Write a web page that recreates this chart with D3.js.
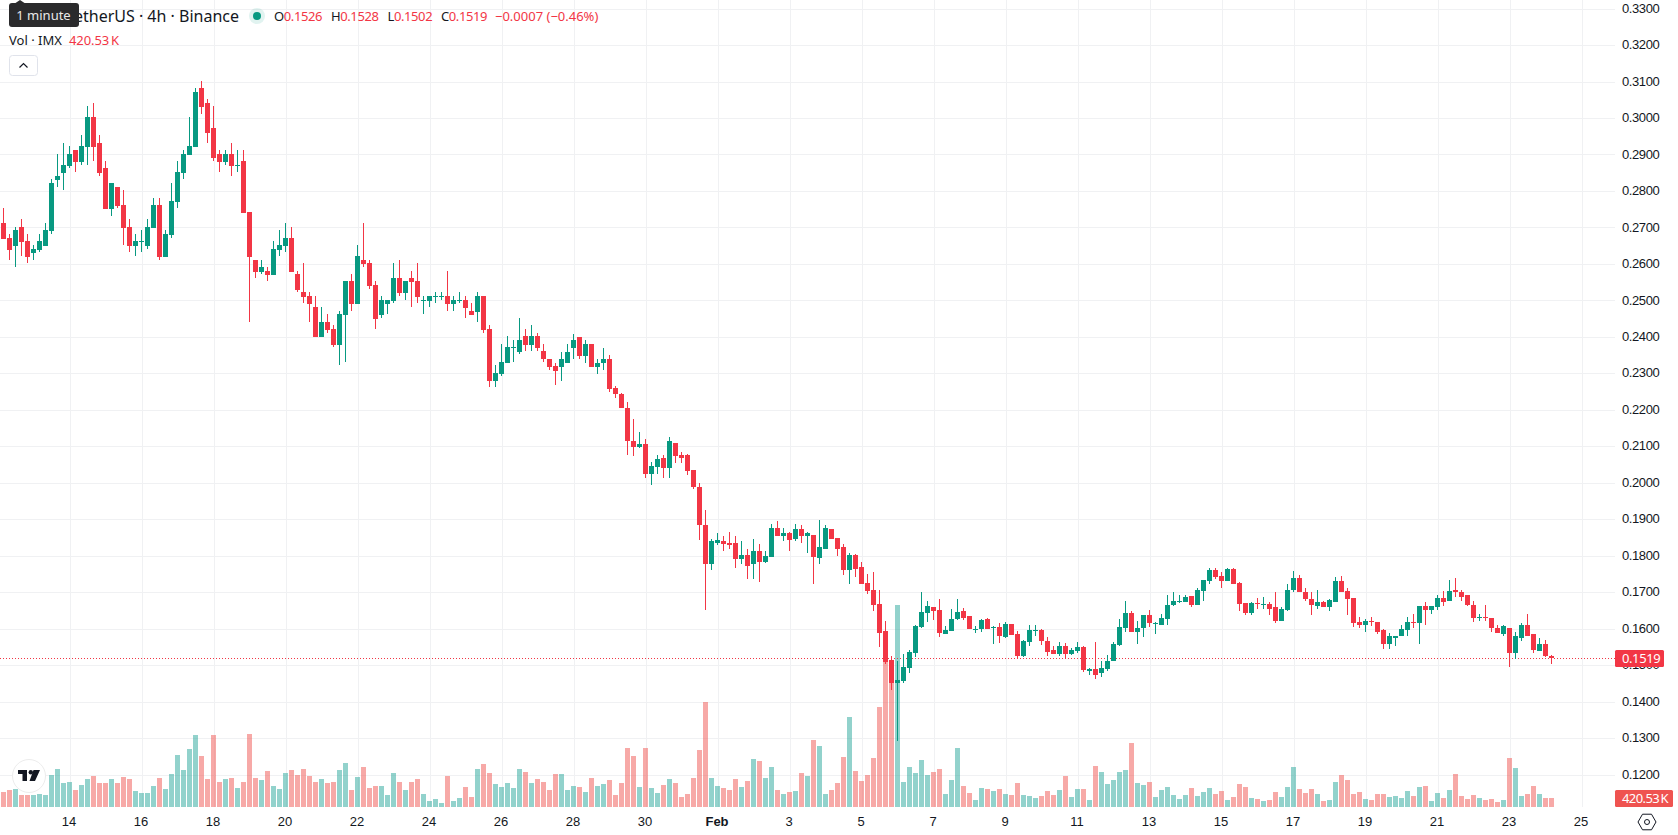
<!DOCTYPE html>
<html>
<head>
<meta charset="utf-8">
<title>IMX / TetherUS 4h</title>
<script src="https://cdn.jsdelivr.net/npm/d3@7"></script>
<style>
  html, body { margin: 0; padding: 0; background: #fff; overflow: hidden; }
  svg { display: block; font-family: "Noto Sans", sans-serif; }
</style>
</head>
<body>
<svg id="chart" width="1678" height="835"></svg>
<script>
// 4h candles, oldest first
const opens = [
0.2712,0.2671,0.2649,0.2701,0.2663,0.2630,0.2638,0.2649,0.2690,0.2830,
0.2849,0.2869,0.2912,0.2880,0.2921,0.3003,0.2932,0.2863,0.2751,0.2811,
0.2762,0.2701,0.2649,0.2660,0.2649,0.2699,0.2762,0.2619,0.2680,0.2770,
0.2849,0.2899,0.2921,0.3082,0.3041,0.2973,0.2901,0.2880,0.2901,0.2869,
0.2882,0.2743,0.2611,0.2578,0.2581,0.2570,0.2638,0.2649,0.2671,0.2572,
0.2523,0.2512,0.2482,0.2400,0.2441,0.2422,0.2378,0.2460,0.2553,0.2490,
0.2611,0.2602,0.2542,0.2460,0.2490,0.2498,0.2561,0.2520,0.2561,0.2553,
0.2498,0.2498,0.2509,0.2509,0.2512,0.2490,0.2498,0.2501,0.2471,0.2468,
0.2512,0.2422,0.2279,0.2298,0.2328,0.2369,0.2359,0.2402,0.2378,0.2402,
0.2361,0.2340,0.2321,0.2318,0.2327,0.2368,0.2400,0.2348,0.2379,0.2318,
0.2327,0.2340,0.2261,0.2244,0.2206,0.2113,0.2099,0.2107,0.2025,0.2042,
0.2069,0.2039,0.2110,0.2075,0.2075,0.2036,0.1987,0.1883,0.1776,0.1836,
0.1839,0.1836,0.1834,0.1790,0.1803,0.1776,0.1812,0.1782,0.1795,0.1875,
0.1853,0.1861,0.1845,0.1872,0.1853,0.1858,0.1793,0.1818,0.1873,0.1848,
0.1824,0.1761,0.1802,0.1769,0.1725,0.1706,0.1668,0.1594,0.1514,0.1451,
0.1457,0.1492,0.1533,0.1605,0.1643,0.1659,0.1651,0.1585,0.1594,0.1627,
0.1648,0.1635,0.1596,0.1599,0.1627,0.1602,0.1605,0.1577,0.1613,0.1585,
0.1525,0.1564,0.1594,0.1596,0.1566,0.1542,0.1531,0.1553,0.1531,0.1539,
0.1550,0.1485,0.1490,0.1477,0.1490,0.1510,0.1556,0.1603,0.1644,0.1592,
0.1603,0.1638,0.1614,0.1611,0.1627,0.1666,0.1674,0.1674,0.1690,0.1666,
0.1704,0.1731,0.1762,0.1745,0.1731,0.1764,0.1726,0.1671,0.1644,0.1671,
0.1666,0.1668,0.1658,0.1622,0.1652,0.1707,0.1740,0.1701,0.1682,0.1663,
0.1674,0.1660,0.1674,0.1731,0.1704,0.1685,0.1617,0.1609,0.1622,0.1617,
0.1595,0.1557,0.1573,0.1579,0.1595,0.1617,0.1614,0.1661,0.1650,0.1658,
0.1683,0.1675,0.1707,0.1699,0.1691,0.1664,0.1631,0.1633,0.1628,0.1603,
0.1584,0.1603,0.1532,0.1573,0.1609,0.1584,0.1538,0.1559,0.1526];
const highs = [
0.2754,0.2682,0.2701,0.2723,0.2682,0.2652,0.2682,0.2712,0.2833,0.2901,
0.2932,0.2923,0.2912,0.2953,0.3033,0.3041,0.2953,0.2882,0.2822,0.2811,
0.2803,0.2723,0.2682,0.2693,0.2723,0.2781,0.2781,0.2693,0.2822,0.2882,
0.2912,0.3003,0.3082,0.3101,0.3052,0.3033,0.2912,0.2912,0.2932,0.2912,
0.2912,0.2743,0.2611,0.2611,0.2592,0.2663,0.2693,0.2712,0.2701,0.2580,
0.2602,0.2523,0.2512,0.2482,0.2463,0.2433,0.2471,0.2553,0.2572,0.2652,
0.2712,0.2611,0.2553,0.2512,0.2501,0.2602,0.2611,0.2553,0.2580,0.2602,
0.2512,0.2512,0.2523,0.2523,0.2580,0.2512,0.2523,0.2512,0.2493,0.2523,
0.2512,0.2433,0.2323,0.2380,0.2402,0.2391,0.2452,0.2422,0.2433,0.2411,
0.2380,0.2340,0.2329,0.2359,0.2379,0.2409,0.2400,0.2390,0.2379,0.2340,
0.2370,0.2351,0.2264,0.2247,0.2220,0.2176,0.2138,0.2121,0.2058,0.2077,
0.2075,0.2124,0.2110,0.2083,0.2080,0.2036,0.1998,0.1924,0.1847,0.1861,
0.1853,0.1864,0.1853,0.1839,0.1817,0.1845,0.1831,0.1812,0.1886,0.1894,
0.1875,0.1864,0.1886,0.1883,0.1866,0.1858,0.1898,0.1884,0.1873,0.1848,
0.1832,0.1807,0.1805,0.1783,0.1750,0.1755,0.1706,0.1621,0.1525,0.1512,
0.1531,0.1542,0.1610,0.1700,0.1676,0.1659,0.1681,0.1607,0.1654,0.1681,
0.1657,0.1635,0.1607,0.1627,0.1629,0.1607,0.1616,0.1618,0.1613,0.1594,
0.1569,0.1610,0.1610,0.1599,0.1577,0.1553,0.1564,0.1561,0.1547,0.1564,
0.1553,0.1493,0.1562,0.1512,0.1529,0.1564,0.1625,0.1677,0.1647,0.1622,
0.1638,0.1652,0.1619,0.1641,0.1693,0.1701,0.1693,0.1693,0.1690,0.1710,
0.1734,0.1767,0.1767,0.1756,0.1767,0.1767,0.1729,0.1671,0.1674,0.1685,
0.1688,0.1674,0.1701,0.1660,0.1723,0.1759,0.1748,0.1710,0.1699,0.1707,
0.1677,0.1682,0.1742,0.1745,0.1712,0.1685,0.1631,0.1625,0.1633,0.1617,
0.1598,0.1587,0.1581,0.1609,0.1631,0.1639,0.1661,0.1674,0.1661,0.1691,
0.1702,0.1732,0.1740,0.1705,0.1691,0.1675,0.1639,0.1664,0.1628,0.1609,
0.1609,0.1603,0.1590,0.1614,0.1639,0.1584,0.1573,0.1570,0.1528];
const lows = [
0.2669,0.2611,0.2592,0.2622,0.2603,0.2611,0.2633,0.2649,0.2682,0.2811,
0.2803,0.2863,0.2852,0.2871,0.2871,0.2882,0.2841,0.2751,0.2732,0.2754,
0.2652,0.2633,0.2622,0.2633,0.2641,0.2699,0.2611,0.2619,0.2671,0.2754,
0.2833,0.2899,0.2921,0.3011,0.2932,0.2882,0.2852,0.2871,0.2841,0.2852,
0.2740,0.2441,0.2562,0.2573,0.2554,0.2570,0.2622,0.2632,0.2578,0.2523,
0.2493,0.2441,0.2400,0.2400,0.2411,0.2372,0.2323,0.2331,0.2471,0.2490,
0.2591,0.2531,0.2422,0.2452,0.2463,0.2493,0.2512,0.2501,0.2482,0.2493,
0.2463,0.2482,0.2493,0.2501,0.2471,0.2471,0.2493,0.2452,0.2460,0.2441,
0.2411,0.2263,0.2263,0.2293,0.2328,0.2331,0.2353,0.2361,0.2361,0.2361,
0.2331,0.2310,0.2269,0.2280,0.2327,0.2340,0.2340,0.2329,0.2318,0.2299,
0.2310,0.2250,0.2231,0.2206,0.2077,0.2072,0.2094,0.2012,0.1995,0.2025,
0.2014,0.2014,0.2055,0.2053,0.2022,0.1984,0.1844,0.1650,0.1762,0.1828,
0.1814,0.1817,0.1765,0.1776,0.1735,0.1735,0.1727,0.1779,0.1795,0.1855,
0.1839,0.1812,0.1839,0.1836,0.1806,0.1721,0.1777,0.1818,0.1846,0.1799,
0.1747,0.1722,0.1742,0.1722,0.1695,0.1648,0.1550,0.1503,0.1432,0.1293,
0.1451,0.1479,0.1522,0.1602,0.1618,0.1624,0.1577,0.1585,0.1594,0.1624,
0.1624,0.1599,0.1588,0.1591,0.1599,0.1558,0.1561,0.1575,0.1583,0.1517,
0.1522,0.1553,0.1580,0.1555,0.1525,0.1531,0.1525,0.1517,0.1528,0.1533,
0.1481,0.1474,0.1463,0.1466,0.1485,0.1510,0.1551,0.1592,0.1592,0.1559,
0.1578,0.1605,0.1586,0.1611,0.1611,0.1663,0.1671,0.1674,0.1660,0.1666,
0.1677,0.1723,0.1737,0.1710,0.1731,0.1721,0.1649,0.1636,0.1638,0.1655,
0.1655,0.1638,0.1614,0.1622,0.1649,0.1701,0.1699,0.1677,0.1638,0.1655,
0.1660,0.1647,0.1674,0.1701,0.1638,0.1605,0.1601,0.1592,0.1606,0.1584,
0.1543,0.1543,0.1551,0.1579,0.1581,0.1603,0.1559,0.1609,0.1639,0.1650,
0.1661,0.1675,0.1688,0.1675,0.1661,0.1617,0.1622,0.1620,0.1590,0.1587,
0.1579,0.1496,0.1518,0.1565,0.1581,0.1532,0.1538,0.1521,0.1502];
const closes = [
0.2669,0.2638,0.2693,0.2660,0.2619,0.2641,0.2663,0.2693,0.2822,0.2841,
0.2871,0.2901,0.2880,0.2923,0.3003,0.2921,0.2849,0.2751,0.2822,0.2759,
0.2699,0.2649,0.2663,0.2663,0.2701,0.2762,0.2619,0.2682,0.2773,0.2852,
0.2901,0.2923,0.3071,0.3030,0.2959,0.2890,0.2880,0.2901,0.2869,0.2871,
0.2740,0.2619,0.2578,0.2592,0.2570,0.2641,0.2652,0.2671,0.2578,0.2528,
0.2509,0.2490,0.2400,0.2441,0.2419,0.2378,0.2463,0.2553,0.2490,0.2622,
0.2600,0.2539,0.2449,0.2501,0.2501,0.2561,0.2520,0.2553,0.2550,0.2509,
0.2501,0.2512,0.2512,0.2512,0.2490,0.2501,0.2501,0.2479,0.2460,0.2512,
0.2419,0.2279,0.2301,0.2331,0.2372,0.2372,0.2391,0.2378,0.2402,0.2369,
0.2339,0.2318,0.2307,0.2340,0.2359,0.2390,0.2348,0.2379,0.2318,0.2329,
0.2340,0.2258,0.2242,0.2206,0.2113,0.2099,0.2107,0.2025,0.2047,0.2066,
0.2039,0.2113,0.2072,0.2069,0.2033,0.1987,0.1883,0.1776,0.1839,0.1842,
0.1831,0.1828,0.1790,0.1803,0.1773,0.1812,0.1782,0.1798,0.1875,0.1855,
0.1861,0.1842,0.1872,0.1853,0.1861,0.1795,0.1824,0.1876,0.1846,0.1818,
0.1761,0.1802,0.1764,0.1722,0.1703,0.1665,0.1588,0.1509,0.1451,0.1459,
0.1495,0.1536,0.1607,0.1646,0.1662,0.1648,0.1588,0.1596,0.1627,0.1646,
0.1629,0.1599,0.1599,0.1624,0.1599,0.1605,0.1580,0.1613,0.1583,0.1525,
0.1566,0.1596,0.1596,0.1566,0.1536,0.1531,0.1553,0.1531,0.1542,0.1550,
0.1487,0.1490,0.1474,0.1493,0.1510,0.1559,0.1605,0.1644,0.1592,0.1603,
0.1636,0.1614,0.1616,0.1630,0.1666,0.1677,0.1677,0.1688,0.1666,0.1707,
0.1734,0.1762,0.1742,0.1731,0.1764,0.1723,0.1668,0.1644,0.1671,0.1668,
0.1668,0.1655,0.1622,0.1655,0.1707,0.1740,0.1701,0.1682,0.1666,0.1674,
0.1660,0.1679,0.1731,0.1701,0.1682,0.1616,0.1609,0.1622,0.1620,0.1592,
0.1557,0.1579,0.1581,0.1598,0.1617,0.1614,0.1661,0.1650,0.1661,0.1683,
0.1672,0.1702,0.1699,0.1688,0.1664,0.1628,0.1633,0.1628,0.1603,0.1587,
0.1606,0.1532,0.1579,0.1609,0.1581,0.1540,0.1559,0.1524,0.1519];
// traded volume per candle, thousands of IMX
const volumes = [
701,794,841,561,561,561,607,561,1495,1776,
1121,1168,794,1028,1309,1449,1121,1121,1309,1121,
1402,1309,748,654,654,981,1355,841,1542,2430,
1729,2711,3365,2384,1309,3365,1168,1309,1355,888,
1168,3412,1355,1262,1683,981,841,1589,1729,1495,
1776,1449,1168,1309,1121,1168,1729,2056,794,1402,
1870,888,981,981,561,1589,1168,794,1168,1309,
607,280,374,187,1449,280,421,935,467,1776,
2010,1589,1075,935,1122,888,1776,1636,1122,1309,
1168,794,1542,1542,794,981,935,701,1355,981,
1075,1262,561,1122,2758,2384,935,2758,888,654,
1028,1309,1122,467,607,1355,2664,4908,1355,981,
888,794,1309,935,1215,2244,2150,1355,1870,794,
607,701,748,1589,1449,3132,2851,607,794,1122,
2337,4207,1683,1215,1495,2290,4674,7477,6542,9440,
1168,1870,1589,2197,1495,1636,1776,607,1262,2758,
981,654,327,888,841,748,841,607,561,1122,
561,514,421,514,748,561,794,1449,467,841,
841,327,1916,1636,1075,1262,1636,1729,2991,1122,
1028,1168,467,794,935,561,374,561,888,514,
701,888,607,748,327,467,1075,935,421,374,
280,327,701,467,935,1870,841,654,841,607,
280,327,1168,1495,1262,607,701,374,327,607,
607,467,514,421,748,514,935,981,280,654,
421,794,1542,514,374,561,421,327,374,234,
327,2290,1823,514,607,981,607,421,420.53];

const dayLabels = ["14","16","18","20","22","24","26","28","30","Feb","3","5","7","9","11","13","15","17","19","21","23","25"];
const priceTicks = [0.12,0.13,0.14,0.15,0.16,0.17,0.18,0.19,0.20,0.21,0.22,0.23,0.24,0.25,0.26,0.27,0.28,0.29,0.30,0.31,0.32,0.33];
const ohlcLabels = [["O","0.1526"],["H","0.1528"],["L","0.1502"],["C","0.1519"]];
const changeLabel = "\u22120.0007 (\u22120.46%)";
const lastVolumeLabel = "420.53\u2009K";

const GREEN = "#089981", RED = "#f23645";
const VOL_GREEN = "rgba(38,166,154,0.5)", VOL_RED = "rgba(239,83,80,0.5)";
const GRID = "#f0f1f3", INK = "#131722";
const paneRight = 1615, paneBottom = 807;
const TIGHT = "-0.4px"; // narrows numerals to the scale's compact spacing

const svg = d3.select("#chart");

// one candle every 6px; a labelled gridline falls on every 12th candle from index 11
const x = d3.scaleLinear().domain([0, 1]).range([3.5, 9.5]);
const y = d3.scaleLinear().domain([0.12, 0.31]).range([774.5, 81.5]);
const yVol = d3.scaleLinear().domain([0, 9440]).range([paneBottom, 605]);
const dayTicks = dayLabels.map((_, i) => 11 + i * 12);

// horizontal and vertical grid come from the axes' tick lines
const yGrid = svg.append("g").call(
  d3.axisRight(y).tickValues(priceTicks).tickSize(paneRight).tickFormat(""));
yGrid.select(".domain").remove();
yGrid.selectAll("line").attr("stroke", GRID).attr("shape-rendering", "crispEdges");

const xGrid = svg.append("g").call(
  d3.axisTop(x).tickValues(dayTicks).tickSize(paneBottom).tickFormat(""))
  .attr("transform", `translate(0,${paneBottom})`);
xGrid.select(".domain").remove();
xGrid.selectAll("line").attr("stroke", GRID).attr("shape-rendering", "crispEdges");

const candles = closes.map((c, i) => ({
  i, o: opens[i], h: highs[i], l: lows[i], c, v: volumes[i], up: c >= opens[i]
}));

// volume sits under the candles
svg.append("g").selectAll("rect").data(candles).join("rect")
  .attr("x", d => Math.round(x(d.i) - 2.5))
  .attr("width", 5)
  .attr("y", d => Math.round(yVol(d.v)))
  .attr("height", d => yVol(0) - Math.round(yVol(d.v)))
  .attr("fill", d => d.up ? VOL_GREEN : VOL_RED)
  .attr("shape-rendering", "crispEdges");

// last-price line
const lastClose = closes[closes.length - 1];
svg.append("line")
  .attr("x1", 0).attr("x2", paneRight)
  .attr("y1", Math.round(y(lastClose)) + 0.5).attr("y2", Math.round(y(lastClose)) + 0.5)
  .attr("stroke", RED).attr("stroke-width", 1).attr("stroke-dasharray", "1 2");

// wicks and bodies
const candleG = svg.append("g").attr("shape-rendering", "crispEdges");
candleG.selectAll(".wick").data(candles).join("rect").attr("class", "wick")
  .attr("x", d => Math.floor(x(d.i)))
  .attr("width", 1)
  .attr("y", d => Math.round(y(d.h)))
  .attr("height", d => Math.max(1, Math.round(y(d.l)) - Math.round(y(d.h))))
  .attr("fill", d => d.up ? GREEN : RED);
candleG.selectAll(".body").data(candles).join("rect").attr("class", "body")
  .attr("x", d => Math.round(x(d.i) - 2.5))
  .attr("width", 5)
  .attr("y", d => Math.round(y(Math.max(d.o, d.c))))
  .attr("height", d => Math.max(1, Math.round(y(Math.min(d.o, d.c))) - Math.round(y(Math.max(d.o, d.c)))))
  .attr("fill", d => d.up ? GREEN : RED);

// price scale labels
const yAxis = svg.append("g").attr("transform", `translate(${paneRight + 7},0)`).call(
  d3.axisRight(y).tickValues(priceTicks).tickSize(0).tickPadding(0).tickFormat(d3.format(".4f")));
yAxis.select(".domain").remove();
yAxis.selectAll("text").attr("fill", INK).attr("font-size", 13).attr("dy", "0.32em")
  .style("letter-spacing", TIGHT).attr("transform", "translate(0,-0.5)");

// time scale labels
const xAxis = svg.append("g").attr("transform", "translate(-1,826)").call(
  d3.axisBottom(x).tickValues(dayTicks).tickSize(0).tickPadding(0).tickFormat((d, i) => dayLabels[i]));
xAxis.select(".domain").remove();
xAxis.selectAll("text").attr("fill", INK).attr("font-size", 13).attr("dy", 0)
  .attr("font-weight", (d, i) => dayLabels[i] === "Feb" ? 700 : 400);

// tags on the price scale
const tag = (left, top, w, h, fill, label, spacing) => {
  svg.append("rect").attr("x", left).attr("y", top).attr("width", w).attr("height", h).attr("rx", 1.5).attr("fill", fill);
  svg.append("text").attr("x", left + 7).attr("y", top + h / 2).attr("dy", "0.35em")
    .attr("fill", "#fff").attr("font-size", 13).style("letter-spacing", spacing).text(label);
};
tag(1615, 650, 49, 17, RED, d3.format(".4f")(lastClose), TIGHT);
tag(1615, 790, 58, 17, "#ef5350", lastVolumeLabel, "-0.6px");

// scale settings button
const hex = d3.range(6).map(k => {
  const a = Math.PI * k / 3;
  return [1647 + 9 * Math.cos(a), 822 + 9 * Math.sin(a)];
});
svg.append("path").attr("d", d3.line()(hex) + "Z").attr("fill", "none").attr("stroke", INK).attr("stroke-width", 1);
svg.append("circle").attr("cx", 1647).attr("cy", 822).attr("r", 2.5).attr("fill", "none").attr("stroke", INK);

// legend rows
svg.append("text").attr("x", 239).attr("y", 16).attr("dy", "0.35em").attr("text-anchor", "end")
  .attr("fill", INK).attr("font-size", 16).text("IMX / TetherUS \u00b7 4h \u00b7 Binance");
svg.append("circle").attr("cx", 257).attr("cy", 16).attr("r", 8).attr("fill", "#089981").attr("opacity", 0.12);
svg.append("circle").attr("cx", 257).attr("cy", 16).attr("r", 4).attr("fill", "#089981");

const legendX = [274, 331, 387.5, 441];
ohlcLabels.forEach(([k, v], i) => {
  const t = svg.append("text").attr("x", legendX[i]).attr("y", 16).attr("dy", "0.35em")
    .attr("font-size", 13).style("letter-spacing", TIGHT);
  t.append("tspan").attr("fill", INK).text(k);
  t.append("tspan").attr("fill", RED).text(v);
});
svg.append("text").attr("x", 495).attr("y", 16).attr("dy", "0.35em").attr("font-size", 13)
  .attr("fill", RED).text(changeLabel);

svg.append("text").attr("x", 9).attr("y", 40.5).attr("dy", "0.35em").attr("fill", INK).attr("font-size", 13).text("Vol \u00b7 IMX");
svg.append("text").attr("x", 69).attr("y", 40.5).attr("dy", "0.35em").attr("fill", RED).attr("font-size", 13)
  .style("letter-spacing", "-0.1px").text(lastVolumeLabel);

// collapse button
svg.append("rect").attr("x", 9.5).attr("y", 55.5).attr("width", 28).attr("height", 20).attr("rx", 3)
  .attr("fill", "#fff").attr("stroke", "#e0e3eb");
svg.append("path").attr("d", d3.line()([[19.5, 67.5], [23.5, 63.5], [27.5, 67.5]]))
  .attr("fill", "none").attr("stroke", INK).attr("stroke-width", 1.2);

// hover hint over the start of the legend
svg.append("path").attr("d", d3.line()([[14, 4], [20, 0], [26, 4]])).attr("fill", "#2a2a2c");
svg.append("rect").attr("x", 9).attr("y", 3).attr("width", 70).attr("height", 24).attr("rx", 3).attr("fill", "#2a2a2c");
svg.append("text").attr("x", 43.5).attr("y", 15.5).attr("dy", "0.35em").attr("text-anchor", "middle")
  .attr("fill", "#e8e8e8").attr("font-size", 13).text("1 minute");

// attribution badge, bottom left
const badge = svg.append("g").attr("transform", "translate(29,776)");
badge.append("circle").attr("r", 16.5).attr("fill", "#fff").attr("stroke", "#ececec").attr("stroke-width", 1);
badge.append("path").attr("transform", "translate(-11,-6)")
  .attr("d", "M0 0H9V11H4.5V4H0Z M15.5 0H22L17 11H11.5Z").attr("fill", INK);
badge.append("circle").attr("cx", 1.8).attr("cy", -3.7).attr("r", 2.2).attr("fill", INK);
</script>
</body>
</html>
